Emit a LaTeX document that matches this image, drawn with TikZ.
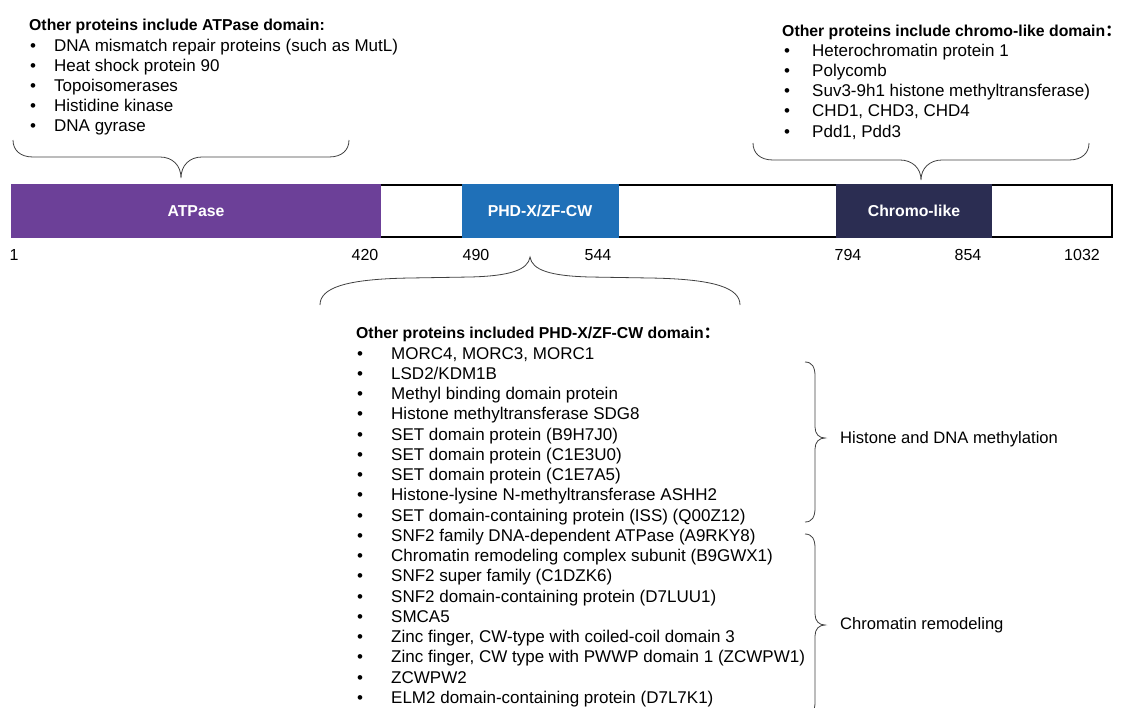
\documentclass[tikz,border=0pt]{standalone}
\usepackage{fontspec}
\setmainfont{Liberation Sans}
\newfontfamily\cjk{Noto Sans CJK SC}
\definecolor{atpcol}{RGB}{108,64,152}
\definecolor{phdcol}{RGB}{31,112,184}
\definecolor{chrcol}{RGB}{43,45,82}
\tikzset{
  txt/.style={font=\fontsize{17}{20}\selectfont, anchor=base west, inner sep=0pt, text=black},
  head/.style={txt, font=\fontsize{15.8}{18}\selectfont\bfseries},
  bul/.style={txt},
  side/.style={font=\fontsize{16.6}{20}\selectfont, anchor=west, inner sep=0pt},
  num/.style={font=\fontsize{16}{18}\selectfont, anchor=center, inner sep=0pt},
  dom/.style={font=\fontsize{15.8}{18}\selectfont\bfseries, text=white, anchor=center, inner sep=0pt},
  bracepath/.style={draw=black!75, line width=0.8pt},
}
\begin{document}
\begin{tikzpicture}[x=1pt,y=-1pt]
\useasboundingbox (0,0) rectangle (1134,707);
\clip (0,0) rectangle (1134,707);
% ---------- bar ----------
\draw[line width=1.4pt] (12,185) rectangle (1112,237);
\fill[atpcol] (11.3,184.3) rectangle (381,237.7);
\fill[phdcol] (462,184.3) rectangle (619,237.7);
\fill[chrcol] (836,184.3) rectangle (992,237.7);
\node[dom] (atp) at (196,211) {ATPase};
\node[dom] (phd) at (540,211) {PHD-X/ZF-CW};
\node[dom] (chr) at (914,211) {Chromo-like};
% ---------- numbers ----------
\node[num] (n1) at (14,255) {1};
\node[num] (n420) at (365,255) {420};
\node[num] (n490) at (476,255) {490};
\node[num] (n544) at (598,255) {544};
\node[num] (n794) at (848,255) {794};
\node[num] (n854) at (968,255) {854};
\node[num] (n1032) at (1082,255) {1032};
% ---------- top-left list ----------
\node[head] (hA) at (29,30) {Other proteins include ATPase domain:};
\foreach \t [count=\i] in {DNA mismatch repair proteins (such as MutL),Heat shock protein 90,Topoisomerases,Histidine kinase,DNA gyrase}{
  \node[bul] (bA\i) at (30,{30.8+20.2*\i}) {•};
  \node[txt] (iA\i) at (54,{30.8+20.2*\i}) {\t};
}
% ---------- top-right list ----------
\node[head] (hC) at (782,36.5) {Other proteins include chromo-like domain{\cjk ：}};
\foreach \t [count=\i] in {Heterochromatin protein 1,Polycomb,Suv3-9h1 histone methyltransferase),{CHD1, CHD3, CHD4},{Pdd1, Pdd3}}{
  \node[bul] (bC\i) at (784,{36+20.2*\i}) {•};
  \node[txt] (iC\i) at (812,{36+20.2*\i}) {\t};
}
% ---------- bottom list ----------
\node[head] (hP) at (356,338.5) {Other proteins included PHD-X/ZF-CW domain{\cjk ：}};
\foreach \t [count=\i] in {{MORC4, MORC3, MORC1},LSD2/KDM1B,Methyl binding domain protein,Histone methyltransferase SDG8,SET domain protein (B9H7J0),SET domain protein (C1E3U0),SET domain protein (C1E7A5),Histone-lysine N-methyltransferase ASHH2,SET domain-containing protein (ISS) (Q00Z12),SNF2 family DNA-dependent ATPase (A9RKY8),Chromatin remodeling complex subunit (B9GWX1),SNF2 super family (C1DZK6),SNF2 domain-containing protein (D7LUU1),SMCA5,{Zinc finger, CW-type with coiled-coil domain 3},{Zinc finger, CW type with PWWP domain 1 (ZCWPW1)},ZCWPW2,ELM2 domain-containing protein (D7L7K1)}{
  \node[bul] (bP\i) at (357,{338.8+20.25*\i}) {•};
  \node[txt] (iP\i) at (391,{338.8+20.25*\i}) {\t};
}
% ---------- right labels ----------
\node[side] (meth) at (840,439) {Histone and DNA methylation};
\node[side] (remo) at (840,625) {Chromatin remodeling};
% ---------- braces ----------
% top-left brace (ATPase)
\coordinate (tA) at (181,178);
\draw[bracepath] (13,140) .. controls (13,150) and (20,157) .. (33,157)
  -- (160,157) .. controls (172,157) and (181,165) .. (tA)
  .. controls (181,165) and (190,157) .. (202,157)
  -- (329,157) .. controls (342,157) and (349,150) .. (349,140);
% top-right brace (chromo-like)
\coordinate (tC) at (921,180);
\draw[bracepath] (753,143) .. controls (753,153) and (760,160) .. (773,160)
  -- (900,160) .. controls (912,160) and (921,168) .. (tC)
  .. controls (921,168) and (930,160) .. (942,160)
  -- (1069,160) .. controls (1082,160) and (1089,153) .. (1089,143);
% PHD brace (below bar)
\coordinate (tP) at (530,257);
\draw[bracepath] (320,305) .. controls (320,288) and (345,279) .. (410,278)
  -- (470,277) .. controls (510,276) and (528,270) .. (tP)
  .. controls (532,270) and (550,276) .. (590,277)
  -- (650,278) .. controls (715,279) and (740,288) .. (740,305);
% methylation brace
\coordinate (tM) at (825,438);
\draw[bracepath] (805,362) .. controls (812,362) and (815,367) .. (815,376)
  -- (815,427) .. controls (815,434) and (819,438) .. (tM)
  .. controls (819,438) and (815,442) .. (815,449)
  -- (815,508) .. controls (815,517) and (812,522) .. (805,522);
% remodeling brace
\coordinate (tR) at (825,625);
\draw[bracepath] (805,534) .. controls (812,534) and (815,539) .. (815,548)
  -- (815,614) .. controls (815,621) and (819,625) .. (tR)
  .. controls (819,625) and (815,629) .. (815,636)
  -- (815,702) .. controls (815,711) and (812,716) .. (805,716);
\end{tikzpicture}
\end{document}
